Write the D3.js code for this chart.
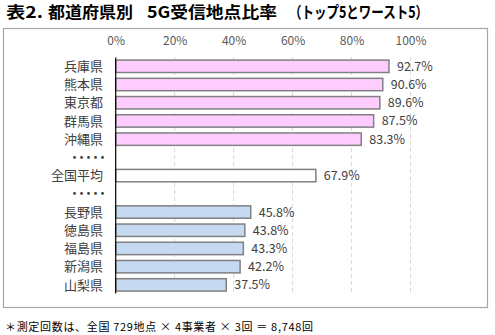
<!DOCTYPE html>
<html><head><meta charset="utf-8">
<script src="https://cdn.jsdelivr.net/npm/d3@7"></script>
<style>body{margin:0;background:#fff;}svg{display:block;}</style>
</head><body>
<script>
const categories = ["兵庫県","熊本県","東京都","群馬県","沖縄県","・・・・・a","全国平均","・・・・・b","長野県","徳島県","福島県","新潟県","山梨県"];
const values = [92.7, 90.6, 89.6, 87.5, 83.3, null, 67.9, null, 45.8, 43.8, 43.3, 42.2, 37.5];
const groups = ["top","top","top","top","top",null,"avg",null,"worst","worst","worst","worst","worst"];
const tickValues = [0, 20, 40, 60, 80, 100];
const titleParts = ["表2.", "都道府県別", "5G受信地点比率", "（トップ5とワースト5）"];
const footnote = "＊測定回数は、全国 729地点 × 4事業者 × 3回 ＝ 8,748回";

const W = 495, H = 335;
const colors = {top:"#FFCCFF", avg:"#FFFFFF", worst:"#C5D9F1"};
const font = "'Noto Sans CJK JP', 'Noto Sans', sans-serif";

const svg = d3.select("body").append("svg").attr("width", W).attr("height", H);

const titlePos = [[6, 37], [48, 85], [147, 130], [289, 139]];
const tt = svg.append("text").attr("y", 18)
  .attr("font-family", font).attr("font-size", 16).attr("font-weight", "bold").attr("fill", "#000");
tt.selectAll("tspan").data(titleParts).join("tspan")
  .attr("x", (d, i) => titlePos[i][0])
  .attr("textLength", (d, i) => titlePos[i][1])
  .attr("lengthAdjust", "spacingAndGlyphs")
  .text(d => d);

svg.append("rect").attr("x", 3.5).attr("y", 28.5).attr("width", 484).attr("height", 279)
  .attr("fill", "#fff").attr("stroke", "#A6A6A6").attr("stroke-width", 1.2);

const x = d3.scaleLinear().domain([0, 100]).range([115.7, 410.5]);
const y = d3.scaleBand().domain(categories).range([57.2, 294]).paddingInner(0.32).paddingOuter(0.16);

// gridlines
svg.append("g").selectAll("line").data(tickValues.slice(1)).join("line")
  .attr("x1", d => x(d)).attr("x2", d => x(d))
  .attr("y1", 57).attr("y2", 294)
  .attr("stroke", "#D9D9D9").attr("stroke-width", 1).attr("stroke-dasharray", "4,3");

// top axis
const axis = d3.axisTop(x).tickValues(tickValues).tickFormat(d => d + "%").tickSize(0).tickPadding(0);
const ag = svg.append("g").attr("transform", "translate(0,45)").call(axis);
ag.select(".domain").remove();
ag.selectAll("text").attr("font-family", font).attr("font-size", 12).attr("fill", "#595959");

const rows = categories.map((c, i) => ({c, v: values[i], g: groups[i]}));

// bars
svg.append("g").selectAll("rect").data(rows.filter(d => d.v != null)).join("rect")
  .attr("x", x(0)).attr("y", d => y(d.c))
  .attr("width", d => x(d.v) - x(0)).attr("height", y.bandwidth())
  .attr("fill", d => colors[d.g]).attr("stroke", "#808080").attr("stroke-width", 1.5);

// value labels
svg.append("g").selectAll("text").data(rows.filter(d => d.v != null)).join("text")
  .attr("x", d => x(d.v) + 8).attr("y", d => y(d.c) + y.bandwidth() / 2)
  .attr("dy", "0.36em").attr("font-family", font).attr("font-size", 12.5).attr("fill", "#404040")
  .text(d => d.v.toFixed(1) + "%");

// category labels
svg.append("g").selectAll("text").data(rows).join("text")
  .attr("x", 103).attr("y", d => y(d.c) + y.bandwidth() / 2)
  .attr("dy", "0.36em").attr("text-anchor", "end")
  .attr("font-family", font).attr("font-size", 13).attr("fill", "#404040")
  .text(d => d.c.startsWith("・") ? "・・・・・" : d.c)
  .attr("letter-spacing", d => d.c.startsWith("・") ? "-6px" : null);

// axis line
svg.append("line").attr("x1", x(0)).attr("x2", x(0)).attr("y1", 57.5).attr("y2", 293.5)
  .attr("stroke", "#000").attr("stroke-width", 1.2);

svg.append("text").attr("x", 5).attr("y", 331)
  .attr("font-family", font).attr("font-size", 11).attr("fill", "#000")
  .attr("textLength", 308).attr("lengthAdjust", "spacing").text(footnote);
</script>
</body></html>
